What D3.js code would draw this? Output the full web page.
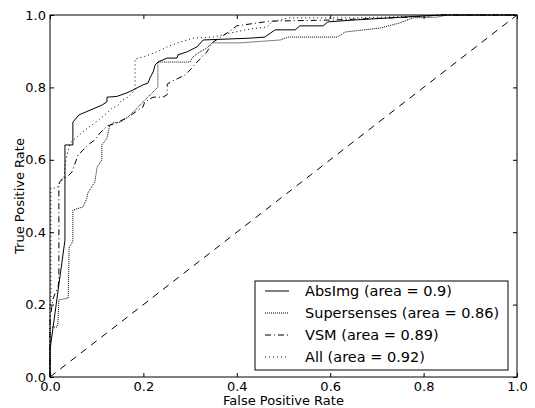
<!DOCTYPE html>
<html>
<head>
<meta charset="utf-8">
<script src="https://cdn.jsdelivr.net/npm/d3@7.9.0/dist/d3.min.js"></script>
<style>
  body { margin: 0; background: #fff; }
  svg { display: block; font-family: "DejaVu Sans", sans-serif; }
</style>
</head>
<body>
<svg id="chart" width="535" height="408"></svg>
<script>
// ROC curves: [false positive rate, true positive rate]
const absImg = [[0,0],[0,0.075],[0.032,0.378],[0.032,0.641],[0.049,0.641],[0.049,0.704],[0.062,0.724],
  [0.111,0.751],[0.122,0.76],[0.122,0.773],[0.143,0.775],[0.165,0.785],[0.178,0.793],[0.199,0.807],
  [0.21,0.812],[0.214,0.826],[0.221,0.843],[0.225,0.862],[0.231,0.87],[0.251,0.881],[0.272,0.881],
  [0.274,0.89],[0.293,0.898],[0.315,0.912],[0.328,0.931],[0.428,0.936],[0.46,0.939],[0.482,0.959],
  [0.525,0.959],[0.535,0.97],[0.585,0.97],[0.595,0.981],[0.649,0.986],[0.792,0.997],[0.846,1],[1,1]];

const supersenses = [[0,0],[0,0.138],[0.015,0.138],[0.017,0.149],[0.019,0.213],[0.039,0.218],
  [0.041,0.359],[0.047,0.37],[0.049,0.378],[0.049,0.461],[0.071,0.47],[0.079,0.494],[0.081,0.508],
  [0.096,0.539],[0.101,0.58],[0.111,0.599],[0.111,0.641],[0.122,0.66],[0.128,0.696],[0.135,0.702],
  [0.15,0.704],[0.167,0.718],[0.178,0.732],[0.193,0.751],[0.203,0.765],[0.214,0.779],[0.225,0.793],
  [0.231,0.801],[0.231,0.87],[0.3,0.87],[0.306,0.884],[0.321,0.898],[0.336,0.909],[0.347,0.923],
  [0.407,0.923],[0.428,0.925],[0.493,0.931],[0.51,0.939],[0.615,0.939],[0.632,0.953],[0.707,0.964],
  [0.749,0.978],[0.777,0.992],[0.829,0.994],[0.85,1],[1,1]];

const vsm = [[0,0],[0,0.157],[0.006,0.213],[0.011,0.232],[0.017,0.246],[0.019,0.268],[0.019,0.536],
  [0.028,0.55],[0.036,0.552],[0.047,0.566],[0.054,0.591],[0.06,0.613],[0.071,0.627],[0.081,0.641],
  [0.096,0.655],[0.107,0.674],[0.122,0.693],[0.143,0.702],[0.167,0.718],[0.199,0.746],[0.203,0.76],
  [0.221,0.773],[0.242,0.773],[0.251,0.78],[0.251,0.809],[0.263,0.818],[0.289,0.834],[0.3,0.848],
  [0.315,0.87],[0.321,0.878],[0.336,0.898],[0.343,0.914],[0.349,0.925],[0.379,0.95],[0.4,0.97],
  [0.471,0.983],[0.6,0.986],[0.771,0.994],[0.835,1],[1,1]];

const all = [[0,0],[0,0.199],[0.002,0.213],[0.002,0.522],[0.015,0.522],[0.021,0.536],[0.03,0.55],
  [0.034,0.599],[0.039,0.627],[0.043,0.646],[0.06,0.666],[0.081,0.688],[0.101,0.707],[0.122,0.729],
  [0.133,0.743],[0.146,0.751],[0.154,0.765],[0.167,0.773],[0.182,0.793],[0.182,0.878],[0.199,0.884],
  [0.229,0.898],[0.251,0.912],[0.278,0.925],[0.306,0.936],[0.349,0.939],[0.385,0.95],[0.428,0.961],
  [0.465,0.967],[0.475,0.981],[0.51,0.992],[0.653,0.992],[0.792,0.997],[0.835,1],[1,1]];

const chance = [[0,0],[1,1]];

const seriesNames = ["AbsImg (area = 0.9)", "Supersenses (area = 0.86)", "VSM (area = 0.89)", "All (area = 0.92)"];
const tickValues = [0, 0.2, 0.4, 0.6, 0.8, 1.0];

const svg = d3.select("#chart");
const margin = { left: 50, right: 18, top: 15, bottom: 31 };
const width = 535, height = 408;

const x = d3.scaleLinear().domain([0, 1]).range([margin.left, width - margin.right]);
const y = d3.scaleLinear().domain([0, 1]).range([height - margin.bottom, margin.top]);

const styles = [
    { stroke: "#000", dash: null },
    { stroke: "#000", dash: "1,1" },
    { stroke: "#000", dash: "6,3,1,3" },
    { stroke: "#000", dash: "1,3" }
];

const line = d3.line().x(d => x(d[0])).y(d => y(d[1]));

const plot = svg.append("g");

// chance diagonal
plot.append("path")
    .datum(chance)
    .attr("d", line)
    .attr("fill", "none")
    .attr("stroke", "#000")
    .attr("stroke-width", 1)
    .attr("stroke-dasharray", "7,6");

[absImg, supersenses, vsm, all].forEach((data, i) => {
    plot.append("path")
        .datum(data)
        .attr("d", line)
        .attr("fill", "none")
        .attr("stroke", styles[i].stroke)
        .attr("stroke-width", 1)
        .attr("stroke-dasharray", styles[i].dash);
});

// axes with inward ticks on all four sides
const fmt = d3.format(".1f");
const axBottom = svg.append("g")
    .attr("transform", `translate(0,${y(0)})`)
    .call(d3.axisBottom(x).tickValues(tickValues).tickFormat(fmt).tickSizeInner(-4).tickSizeOuter(0).tickPadding(5));
const axLeft = svg.append("g")
    .attr("transform", `translate(${x(0)},0)`)
    .call(d3.axisLeft(y).tickValues(tickValues).tickFormat(fmt).tickSizeInner(-4).tickSizeOuter(0).tickPadding(4));
const axTop = svg.append("g")
    .attr("transform", `translate(0,${y(1)})`)
    .call(d3.axisTop(x).tickValues(tickValues).tickFormat("").tickSizeInner(-4).tickSizeOuter(0));
const axRight = svg.append("g")
    .attr("transform", `translate(${x(1)},0)`)
    .call(d3.axisRight(y).tickValues(tickValues).tickFormat("").tickSizeInner(-4).tickSizeOuter(0));

[axBottom, axLeft, axTop, axRight].forEach(g => {
    g.selectAll(".domain").remove();
    g.selectAll("line").attr("stroke", "#000");
    g.selectAll("text").attr("font-size", 13).attr("fill", "#000").attr("font-family", "DejaVu Sans");
});

svg.append("rect")
    .attr("x", x(0)).attr("y", y(1))
    .attr("width", x(1) - x(0)).attr("height", y(0) - y(1))
    .attr("fill", "none").attr("stroke", "#000").attr("stroke-width", 1);

svg.append("text")
    .attr("x", (x(0) + x(1)) / 2).attr("y", 405)
    .attr("text-anchor", "middle").attr("font-size", 13)
    .text("False Positive Rate");

svg.append("text")
    .attr("transform", `translate(19,${(y(0) + y(1)) / 2}) rotate(-90)`)
    .attr("text-anchor", "middle").attr("dy", "0.35em").attr("font-size", 13)
    .text("True Positive Rate");

// legend
const legend = svg.append("g").attr("transform", "translate(255,281)");
legend.append("rect")
    .attr("width", 253).attr("height", 89)
    .attr("fill", "#fff").attr("stroke", "#000").attr("stroke-width", 1);

seriesNames.forEach((name, i) => {
    const ly = 10 + i * 22;
    legend.append("line")
        .attr("x1", 10).attr("x2", 34).attr("y1", ly).attr("y2", ly)
        .attr("stroke", styles[i].stroke).attr("stroke-width", 1)
        .attr("stroke-dasharray", styles[i].dash);
    legend.append("text")
        .attr("x", 50).attr("y", ly).attr("dy", "0.35em")
        .attr("font-size", 14.5)
        .text(name);
});
</script>
</body>
</html>
